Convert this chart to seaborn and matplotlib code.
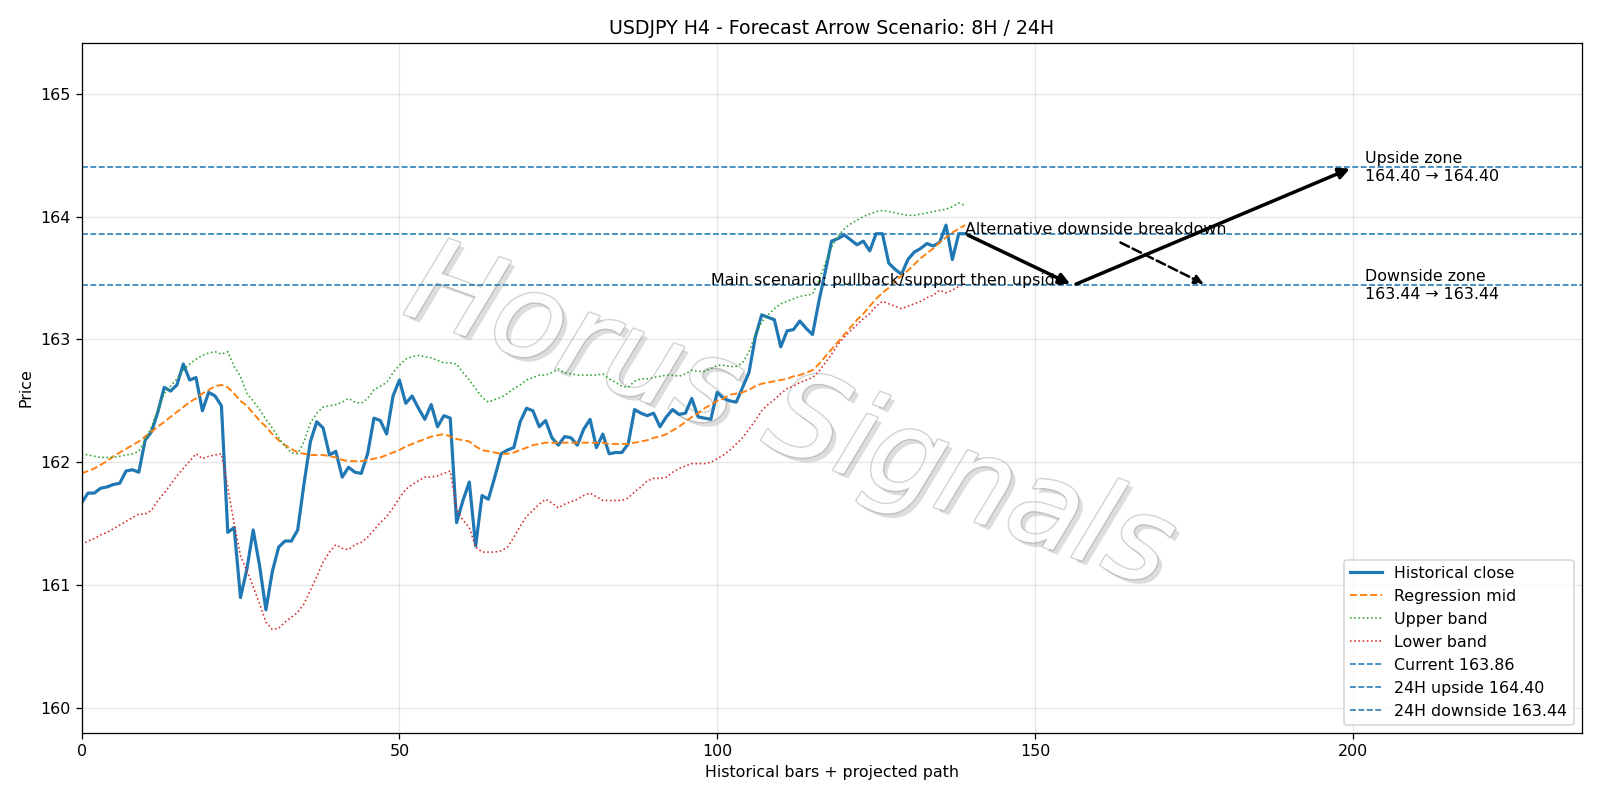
import matplotlib
matplotlib.use("Agg")
import matplotlib.pyplot as plt
import matplotlib.patheffects as pe
import seaborn as sns
import pandas as pd

# Valores (barras historicas 0..139)
fechamento = [
    161.67, 161.75, 161.75, 161.79, 161.80, 161.82, 161.83, 161.93, 161.94, 161.92,
    162.18, 162.25, 162.41, 162.61, 162.58, 162.63, 162.80, 162.67, 162.69, 162.42,
    162.57, 162.54, 162.46, 161.43, 161.47, 160.90, 161.13, 161.45, 161.16, 160.80,
    161.11, 161.31, 161.36, 161.36, 161.45, 161.83, 162.17, 162.33, 162.28, 162.06,
    162.09, 161.88, 161.96, 161.92, 161.91, 162.07, 162.36, 162.34, 162.23, 162.54,
    162.67, 162.48, 162.54, 162.44, 162.35, 162.47, 162.29, 162.38, 162.36, 161.51,
    161.69, 161.84, 161.32, 161.73, 161.70, 161.88, 162.07, 162.10, 162.12, 162.33,
    162.44, 162.42, 162.29, 162.34, 162.20, 162.14, 162.21, 162.20, 162.14, 162.27,
    162.35, 162.12, 162.23, 162.07, 162.08, 162.08, 162.15, 162.43, 162.40, 162.38,
    162.40, 162.29, 162.37, 162.43, 162.39, 162.40, 162.52, 162.37, 162.36, 162.35,
    162.57, 162.52, 162.50, 162.49, 162.61, 162.73, 163.02, 163.20, 163.18, 163.16,
    162.94, 163.07, 163.08, 163.15, 163.09, 163.04, 163.31, 163.55, 163.80, 163.82,
    163.85, 163.81, 163.77, 163.80, 163.72, 163.86, 163.86, 163.62, 163.57, 163.53,
    163.65, 163.71, 163.74, 163.78, 163.76, 163.79, 163.93, 163.65, 163.86, 163.86,
]

regressao = [
    161.91, 161.93, 161.95, 161.98, 162.01, 162.05, 162.08, 162.11, 162.14, 162.17,
    162.21, 162.25, 162.29, 162.33, 162.37, 162.41, 162.45, 162.49, 162.52, 162.56,
    162.59, 162.62, 162.63, 162.61, 162.56, 162.50, 162.46, 162.40, 162.34, 162.29,
    162.23, 162.18, 162.14, 162.11, 162.08, 162.07, 162.06, 162.06, 162.06, 162.05,
    162.04, 162.02, 162.01, 162.01, 162.01, 162.02, 162.03, 162.04, 162.06, 162.08,
    162.10, 162.13, 162.15, 162.17, 162.19, 162.21, 162.22, 162.23, 162.21, 162.19,
    162.18, 162.17, 162.13, 162.10, 162.09, 162.08, 162.07, 162.07, 162.08, 162.10,
    162.12, 162.14, 162.15, 162.16, 162.16, 162.16, 162.16, 162.16, 162.16, 162.16,
    162.16, 162.16, 162.16, 162.15, 162.15, 162.15, 162.15, 162.16, 162.17, 162.18,
    162.20, 162.21, 162.23, 162.26, 162.29, 162.33, 162.37, 162.40, 162.44, 162.47,
    162.50, 162.52, 162.55, 162.56, 162.57, 162.59, 162.62, 162.64, 162.65, 162.66,
    162.67, 162.68, 162.70, 162.71, 162.73, 162.75, 162.80, 162.86, 162.92, 162.98,
    163.04, 163.10, 163.16, 163.21, 163.27, 163.33, 163.38, 163.42, 163.47, 163.52,
    163.56, 163.61, 163.66, 163.70, 163.74, 163.79, 163.83, 163.87, 163.90, 163.93,
]

banda_superior = [
    162.07, 162.06, 162.05, 162.04, 162.04, 162.04, 162.05, 162.06, 162.07, 162.09,
    162.18, 162.29, 162.43, 162.56, 162.62, 162.68, 162.75, 162.80, 162.84, 162.87,
    162.89, 162.90, 162.88, 162.90, 162.78, 162.70, 162.56, 162.50, 162.43, 162.35,
    162.28, 162.20, 162.13, 162.08, 162.07, 162.17, 162.32, 162.40, 162.45, 162.46,
    162.47, 162.49, 162.52, 162.49, 162.48, 162.52, 162.59, 162.62, 162.65, 162.73,
    162.79, 162.84, 162.86, 162.87, 162.86, 162.85, 162.83, 162.81, 162.81, 162.80,
    162.73, 162.67, 162.60, 162.53, 162.49, 162.51, 162.53, 162.56, 162.60, 162.63,
    162.67, 162.69, 162.71, 162.71, 162.73, 162.76, 162.73, 162.72, 162.71, 162.71,
    162.71, 162.71, 162.72, 162.68, 162.65, 162.62, 162.61, 162.66, 162.68, 162.68,
    162.69, 162.70, 162.71, 162.71, 162.70, 162.72, 162.75, 162.74, 162.74, 162.76,
    162.79, 162.79, 162.78, 162.78, 162.81, 162.90, 163.04, 163.14, 163.20, 163.25,
    163.29, 163.31, 163.33, 163.35, 163.36, 163.37, 163.48, 163.62, 163.75, 163.84,
    163.90, 163.94, 163.97, 164.00, 164.02, 164.04, 164.05, 164.04, 164.03, 164.02,
    164.01, 164.01, 164.02, 164.03, 164.04, 164.05, 164.06, 164.08, 164.11, 164.09,
]

banda_inferior = [
    161.33, 161.36, 161.38, 161.41, 161.43, 161.46, 161.49, 161.52, 161.55, 161.58,
    161.58, 161.61, 161.69, 161.75, 161.82, 161.89, 161.95, 162.01, 162.07, 162.03,
    162.05, 162.06, 162.07, 161.80, 161.50, 161.24, 161.12, 160.99, 160.85, 160.70,
    160.64, 160.65, 160.70, 160.74, 160.78, 160.85, 160.96, 161.07, 161.19, 161.27,
    161.33, 161.30, 161.29, 161.33, 161.35, 161.39, 161.45, 161.51, 161.56, 161.63,
    161.71, 161.78, 161.82, 161.85, 161.88, 161.88, 161.89, 161.91, 161.93, 161.62,
    161.53, 161.47, 161.31, 161.27, 161.27, 161.27, 161.28, 161.31, 161.39, 161.48,
    161.56, 161.61, 161.66, 161.70, 161.67, 161.63, 161.66, 161.68, 161.70, 161.73,
    161.75, 161.72, 161.69, 161.69, 161.69, 161.69, 161.71, 161.76, 161.80, 161.85,
    161.87, 161.87, 161.88, 161.92, 161.95, 161.97, 161.99, 161.99, 161.99, 162.00,
    162.03, 162.06, 162.10, 162.15, 162.20, 162.27, 162.34, 162.42, 162.47, 162.51,
    162.56, 162.60, 162.62, 162.65, 162.67, 162.69, 162.74, 162.81, 162.88, 162.96,
    163.02, 163.07, 163.12, 163.17, 163.21, 163.27, 163.31, 163.29, 163.27, 163.25,
    163.27, 163.29, 163.31, 163.34, 163.36, 163.40, 163.38, 163.40, 163.43, 163.45,
]

barras = list(range(len(fechamento)))

# Niveis horizontais
preco_atual = 163.86
alvo_alta = 164.40
alvo_baixa = 163.44

# Caminho projetado (barra, preco)
cenario_principal = [(139, 163.86), (156, 163.44), (200, 164.40)]
cenario_alternativo = [(163, 163.80), (177, 163.44)]

df = pd.DataFrame({
    "Barra": barras,
    "Fechamento": fechamento,
    "Regressao": regressao,
    "Superior": banda_superior,
    "Inferior": banda_inferior,
})

fig, ax = plt.subplots(figsize=(14, 7), dpi=1600 / 14)

# Linhas historicas
sns.lineplot(data=df, x="Barra", y="Fechamento", ax=ax, color="C0", linewidth=2,
             label="Historical close")
sns.lineplot(data=df, x="Barra", y="Regressao", ax=ax, color="C1", linewidth=1.2,
             linestyle="--", label="Regression mid")
sns.lineplot(data=df, x="Barra", y="Superior", ax=ax, color="C2", linewidth=1,
             linestyle=":", label="Upper band")
sns.lineplot(data=df, x="Barra", y="Inferior", ax=ax, color="C3", linewidth=1,
             linestyle=":", label="Lower band")

# Niveis de preco
ax.axhline(preco_atual, color="C0", linestyle="--", linewidth=1, label=f"Current {preco_atual:.2f}")
ax.axhline(alvo_alta, color="C0", linestyle="--", linewidth=1, label=f"24H upside {alvo_alta:.2f}")
ax.axhline(alvo_baixa, color="C0", linestyle="--", linewidth=1, label=f"24H downside {alvo_baixa:.2f}")

# Setas do cenario principal
for inicio, fim in zip(cenario_principal[:-1], cenario_principal[1:]):
    ax.annotate("", xy=fim, xytext=inicio,
                arrowprops=dict(arrowstyle="-|>", color="black", lw=2.2, mutation_scale=14))
ax.text(154.7, alvo_baixa, "Main scenario: pullback/support then upside",
        ha="right", va="baseline", fontsize=10)

# Seta do cenario alternativo
ax.annotate("", xy=cenario_alternativo[1], xytext=cenario_alternativo[0],
            arrowprops=dict(arrowstyle="-|>", color="black", lw=1.6, linestyle="--", mutation_scale=12))
ax.text(139, preco_atual, "Alternative downside breakdown",
        ha="left", va="baseline", fontsize=10)

# Zonas
ax.text(202, alvo_alta, f"Upside zone\n{alvo_alta:.2f} \u2192 {alvo_alta:.2f}", ha="left", va="center", fontsize=10)
ax.text(202, alvo_baixa, f"Downside zone\n{alvo_baixa:.2f} \u2192 {alvo_baixa:.2f}", ha="left", va="center", fontsize=10)

# Marca d'agua
ax.text(0.472, 0.455, "Horus Signals", transform=ax.transAxes, fontsize=74, style="italic",
        color="white", alpha=0.95, ha="center", va="center", rotation=-20, zorder=0,
        path_effects=[pe.withStroke(linewidth=2, foreground="#d2d2d2"),
                      pe.withSimplePatchShadow(offset=(3, -3), shadow_rgbFace="#a0a0a0", alpha=0.35)])

ax.set_xlim(0, 236)
ax.set_ylim(159.8, 165.41)
ax.set_title("USDJPY H4 - Forecast Arrow Scenario: 8H / 24H")
ax.set_xlabel("Historical bars + projected path")
ax.set_ylabel("Price")
ax.grid(True, alpha=0.3)
ax.legend(loc="lower right")

plt.subplots_adjust(left=0.051, right=0.9885, top=0.946, bottom=0.084)
plt.savefig("out.png")
